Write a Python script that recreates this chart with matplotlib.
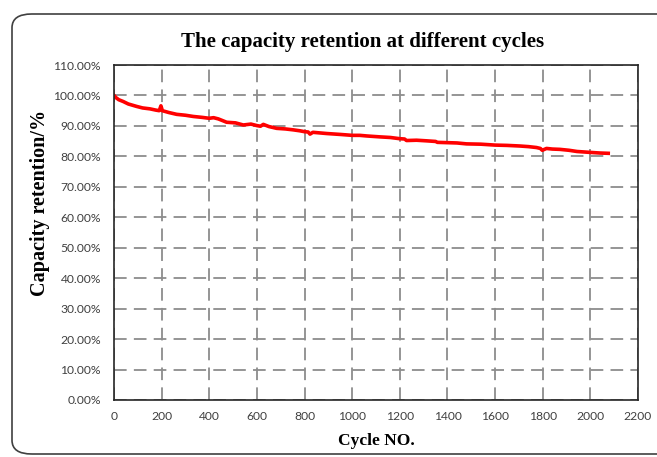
import matplotlib.pyplot as plt
from matplotlib.patches import FancyBboxPatch
from matplotlib.ticker import FuncFormatter, MultipleLocator

# ------------------------------------------------------------------
# Data (cycle number, retention in %)
# ------------------------------------------------------------------
cycles = [0, 8, 20, 39, 60, 95, 120, 151, 175, 190, 197, 203, 230, 263,
          300, 333, 370, 400, 418, 438, 473, 510, 543, 575, 600, 615,
          627, 650, 683, 720, 753, 780, 800, 815, 823, 835, 893, 950,
          1000, 1032, 1061, 1116, 1160, 1200, 1220, 1228, 1270, 1312,
          1350, 1358, 1400, 1440, 1480, 1540, 1600, 1650, 1704, 1740,
          1774, 1790, 1798, 1816, 1840, 1872, 1910, 1944, 2000, 2040,
          2075]
retention = [100.0, 99.3, 98.6, 98.0, 97.2, 96.4, 95.9, 95.6, 95.2, 95.0,
             96.6, 95.0, 94.4, 93.8, 93.5, 93.1, 92.8, 92.5, 92.7, 92.3,
             91.2, 91.0, 90.3, 90.6, 90.1, 89.9, 90.5, 89.8, 89.2, 89.0,
             88.7, 88.4, 88.1, 88.0, 87.3, 87.9, 87.5, 87.2, 86.9, 86.9,
             86.7, 86.4, 86.2, 85.8, 85.7, 85.2, 85.3, 85.1, 84.9, 84.6,
             84.5, 84.4, 84.1, 84.0, 83.7, 83.6, 83.4, 83.2, 82.9, 82.6,
             82.0, 82.6, 82.4, 82.3, 82.0, 81.6, 81.3, 81.1, 81.0]

x_ticks = list(range(0, 2201, 200))

# ------------------------------------------------------------------
# Figure
# ------------------------------------------------------------------
fig = plt.figure(figsize=(6.57, 4.57), dpi=100)

# rounded frame around the whole chart
frame = FancyBboxPatch((12 / 657, 3 / 457), 1.2, 440 / 457,
                       boxstyle="round,pad=0,rounding_size=0.03",
                       transform=fig.transFigure, fill=False,
                       edgecolor="#404040", linewidth=1.2)
fig.patches.append(frame)

ax = fig.add_axes([114 / 657, 57 / 457, 524 / 657, 335 / 457])

ax.plot(cycles, retention, color="#ff0000", linewidth=2.6, solid_joinstyle="round")

ax.set_xlim(0, 2200)
ax.set_ylim(0, 110)
ax.set_xticks(x_ticks)
ax.yaxis.set_major_locator(MultipleLocator(10))
ax.yaxis.set_major_formatter(FuncFormatter(lambda v, p: f"{v:.2f}%"))

ax.grid(True, color="#8c8c8c", linestyle=(0, (7, 4)), linewidth=1.3)
ax.tick_params(axis="both", length=0, labelsize=8.7, labelcolor="#404040")
ax.tick_params(axis="y", pad=9.5)
ax.tick_params(axis="x", pad=8)
for lab in ax.get_xticklabels() + ax.get_yticklabels():
    lab.set_family("Lato")

for s in ax.spines.values():
    s.set_color("#262626")
    s.set_linewidth(1.2)

fig.text(363 / 657, 1 - 42 / 457, "The capacity retention at different cycles",
         fontfamily="Liberation Serif", fontweight="bold", fontsize=15,
         ha="center", va="center")
ax.set_xlabel("Cycle NO.", fontfamily="Liberation Serif",
              fontweight="bold", fontsize=12.5, labelpad=8)
fig.text(40 / 657, 1 - 203 / 457, "Capacity retention/%",
         fontfamily="Liberation Serif", fontweight="bold", fontsize=14.5,
         rotation=90, ha="center", va="center")

plt.savefig("out.png", dpi=100)
